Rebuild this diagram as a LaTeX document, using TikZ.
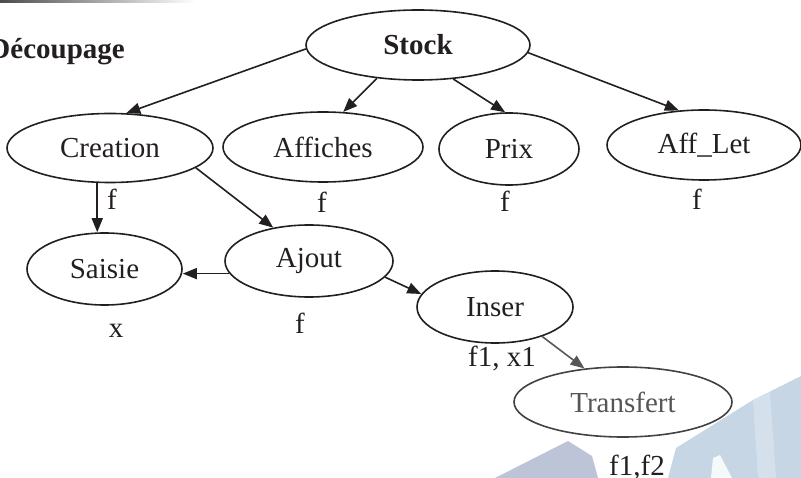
\documentclass[tikz,border=0pt]{standalone}
\usepackage{fontspec}
\setmainfont{Liberation Serif}
\usetikzlibrary{shapes.geometric,arrows.meta}
\definecolor{ink}{HTML}{231F20}
\definecolor{soft}{HTML}{555555}
\definecolor{wmblue}{HTML}{C6D6E4}
\definecolor{wmpale}{HTML}{D4E0EC}
\definecolor{wmlav}{HTML}{BEC4D8}
\begin{document}
\begin{tikzpicture}[x=1pt,y=-1pt,
  every node/.style={font=\fontsize{29}{34}\selectfont, text=ink},
  oval/.style={ellipse, draw=ink, line width=1.6pt, inner sep=0pt},
  link/.style={draw=ink, line width=1.6pt, -{Triangle[length=14pt,width=11pt]}},
  lbl/.style={anchor=base, inner sep=0pt}]
  \useasboundingbox (0,0) rectangle (801,478);
  \clip (0,0) rectangle (801,478);

  % faint logo in the lower right corner
  \fill[wmlav] (495,478) -- (568,441) -- (592,456) -- (598,478) -- cycle;
  \fill[wmblue] (668,478) -- (676,448) -- (753,400) -- (801,376) -- (801,478) -- cycle;
  \fill[wmpale] (753,400) -- (770,392) -- (776,478) -- (758,478) -- cycle;
  \fill[white!85!wmblue] (711,478) -- (713,458) -- (720,455) -- (732,478) -- cycle;

  % rule at the top edge
  \shade[left color=ink!80, right color=white] (0,0) rectangle (195,2.5);

  % title
  \node[anchor=base east, inner sep=0pt, font=\fontsize{29}{34}\selectfont\bfseries] (titre) at (125,59) {Découpage};

  % modules
  \node[oval, minimum width=224pt, minimum height=70pt, font=\fontsize{29}{34}\selectfont\bfseries] (stock) at (418,45) {Stock};
  \node[oval, minimum width=206pt, minimum height=69pt] (creation) at (110,148) {Creation};
  \node[oval, minimum width=200pt, minimum height=70pt] (affiches) at (323,147) {Affiches};
  \node[oval, minimum width=140pt, minimum height=72pt] (prix) at (509,149) {Prix};
  \node[oval, minimum width=194pt, minimum height=70pt] (afflet) at (704,145) {Aff\_Let};
  \node[oval, minimum width=155pt, minimum height=72pt] (saisie) at (104.5,269) {Saisie};
  \node[oval, minimum width=168pt, minimum height=72pt] (ajout) at (309,261) {Ajout};
  \node[oval, minimum width=156pt, minimum height=72pt] (inser) at (495,307) {Inser};
  \node[oval, draw=ink!85, minimum width=218pt, minimum height=70pt, text=soft] (transfert) at (623,402) {Transfert};

  % parameters
  \node[lbl] (pcreation) at (112,210) {f};
  \node[lbl] (paffiches) at (322,213) {f};
  \node[lbl] (pprix) at (505,212) {f};
  \node[lbl] (pafflet) at (697,210) {f};
  \node[lbl] (psaisie) at (116,338) {x};
  \node[lbl] (pajout) at (300,334) {f};
  \node[lbl] (pinser) at (502,367) {f1, x1};
  \node[lbl] (ptransfert) at (637,475) {f1,f2};

  % calls
  \draw[link] (stock.182) -- (creation.65);
  \draw[link] (stock.219) -- (affiches.60);
  \draw[link] (stock.-44) -- (prix.96);
  \draw[link] (stock.-4) -- (afflet.126);
  \draw[link] (creation.250) -- (creation.250 |- saisie.north);
  \draw[link] (creation.-13) -- (ajout.137);
  \draw[link] (ajout.189) -- (ajout.189 -| saisie.east);
  \draw[link] (ajout.-12) -- (inser.170);
  \draw[link, draw=ink!75, -{Triangle[length=14pt,width=11pt,fill=soft]}] (inser.-32) -- (transfert.139);
\end{tikzpicture}
\end{document}
